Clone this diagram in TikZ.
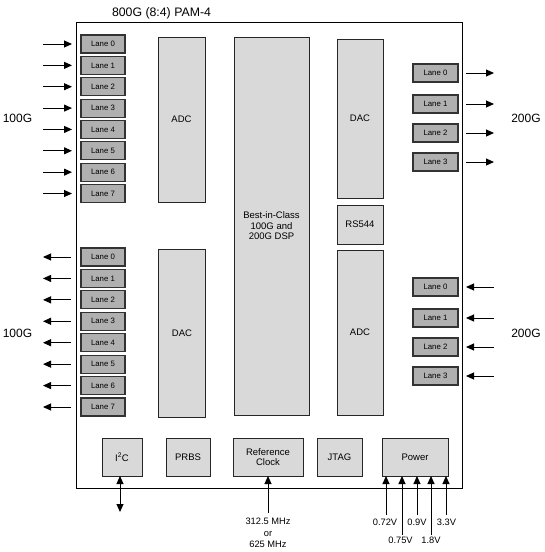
\documentclass[tikz,border=0pt]{standalone}
\usepackage{fontspec}
\setmainfont{Liberation Sans}
\usetikzlibrary{arrows.meta}
\begin{document}
\begin{tikzpicture}[x=1pt,y=-1pt,
  lane/.style={draw=black!80, line width=1.1pt, fill=black!31, minimum width=44pt, minimum height=18pt, inner sep=0pt, outer sep=0pt, font=\fontsize{7.8}{9}\selectfont},
  blk/.style={draw=black!85, line width=0.9pt, fill=black!15, inner sep=0pt, outer sep=0pt, font=\fontsize{9.5}{10.5}\selectfont, align=center},
  arr/.style={-{Triangle[length=8pt,width=7pt]}, line width=1pt},
  darr/.style={{Triangle[length=8pt,width=7pt]}-{Triangle[length=8pt,width=7pt]}, line width=1pt},
  lbl/.style={font=\fontsize{12}{14}\selectfont, inner sep=0pt},
  small/.style={font=\fontsize{9.3}{11.5}\selectfont, align=center, inner sep=0pt}
]
\useasboundingbox (0,0) rectangle (545,552);

% main box
\node[draw=black, line width=1pt, minimum width=386pt, minimum height=466pt, inner sep=0pt, outer sep=0pt] (chip) at (269,255) {};
\node[font=\fontsize{12.3}{14}\selectfont, inner sep=0pt] (title) at (161.5,13) {800G (8:4) PAM-4};

% left upper lanes (inputs)
\foreach \i in {0,...,7} {
  \pgfmathsetmacro\yy{44+21.36*\i}
  \node[lane] (LU\i) at (103,\yy) {Lane \i};
  \coordinate (LUin\i) at (43,\yy);
  \draw[arr] (LUin\i) -- ([xshift=-9pt]LU\i.west);
}
% left lower lanes (outputs)
\foreach \i in {0,...,7} {
  \pgfmathsetmacro\yy{257+21.43*\i}
  \node[lane] (LL\i) at (103,\yy) {Lane \i};
  \coordinate (LLout\i) at (43,\yy);
  \draw[arr] ([xshift=-10pt]LL\i.west) -- (LLout\i);
}
% right upper lanes (outputs)
\foreach \yy [count=\i from 0] in {73,104,133,162} {
  \node[lane, minimum width=45pt] (RU\i) at (435.5,\yy) {Lane \i};
  \coordinate (RUout\i) at (494,\yy);
  \draw[arr] ([xshift=8pt]RU\i.east) -- (RUout\i);
}
% right lower lanes (inputs)
\foreach \yy [count=\i from 0] in {287,318,347,376} {
  \node[lane, minimum width=45pt] (RL\i) at (435.5,\yy) {Lane \i};
  \coordinate (RLin\i) at (494,\yy);
  \draw[arr] (RLin\i) -- ([xshift=8pt]RL\i.east);
}

% side labels
\node[lbl] (l100a) at (17.5,118) {100G};
\node[lbl] (l100b) at (17.5,333) {100G};
\node[lbl] (l200a) at (526,118) {200G};
\node[lbl] (l200b) at (526,333) {200G};

% core blocks
\node[blk, minimum width=47pt, minimum height=165pt] (adcL) at (181.5,119.5) {ADC};
\node[blk, minimum width=47pt, minimum height=168pt] (dacL) at (182,333) {DAC};
\node[blk, minimum width=75pt, minimum height=378pt] (dsp) at (271.5,226) {Best-in-Class\\100G and\\200G DSP};
\node[blk, minimum width=46pt, minimum height=159pt] (dacR) at (360,118.5) {DAC};
\node[blk, minimum width=46pt, minimum height=39pt] (rs) at (360,224.5) {RS544};
\node[blk, minimum width=46pt, minimum height=165pt] (adcR) at (360,332.5) {ADC};

% bottom blocks
\node[blk, minimum width=40pt, minimum height=38pt] (i2c) at (122,457) {I\textsuperscript{2}C};
\node[blk, minimum width=44pt, minimum height=38pt] (prbs) at (188,457) {PRBS};
\node[blk, minimum width=70pt, minimum height=38pt] (ref) at (268,457) {Reference\\Clock};
\node[blk, minimum width=45pt, minimum height=38pt] (jtag) at (339.5,457) {JTAG};
\node[blk, minimum width=66pt, minimum height=38pt] (pwr) at (415,457) {Power};

% I2C bidirectional
\coordinate (i2cend) at (120,512);
\draw[darr] ([xshift=-2pt]i2c.south) -- (i2cend);

% reference clock input
\coordinate (refin) at (268,513);
\draw[arr] (refin) -- (ref.south);
\node[small] (reflbl) at (268,533) {312.5 MHz\\or\\625 MHz};

% power inputs
\coordinate (p1) at (386,515);
\coordinate (p2) at (402,535);
\coordinate (p3) at (417,515);
\coordinate (p4) at (431,535);
\coordinate (p5) at (446,515);
\draw[arr] (p1) -- ([xshift=-29pt]pwr.south);
\draw[arr] (p2) -- ([xshift=-13pt]pwr.south);
\draw[arr] (p3) -- ([xshift=2pt]pwr.south);
\draw[arr] (p4) -- ([xshift=16pt]pwr.south);
\draw[arr] (p5) -- ([xshift=31pt]pwr.south);
\node[small] (v1) at (385,522) {0.72V};
\node[small] (v2) at (400.5,540) {0.75V};
\node[small] (v3) at (417,522) {0.9V};
\node[small] (v4) at (431,540) {1.8V};
\node[small] (v5) at (446.5,522) {3.3V};
\end{tikzpicture}
\end{document}
